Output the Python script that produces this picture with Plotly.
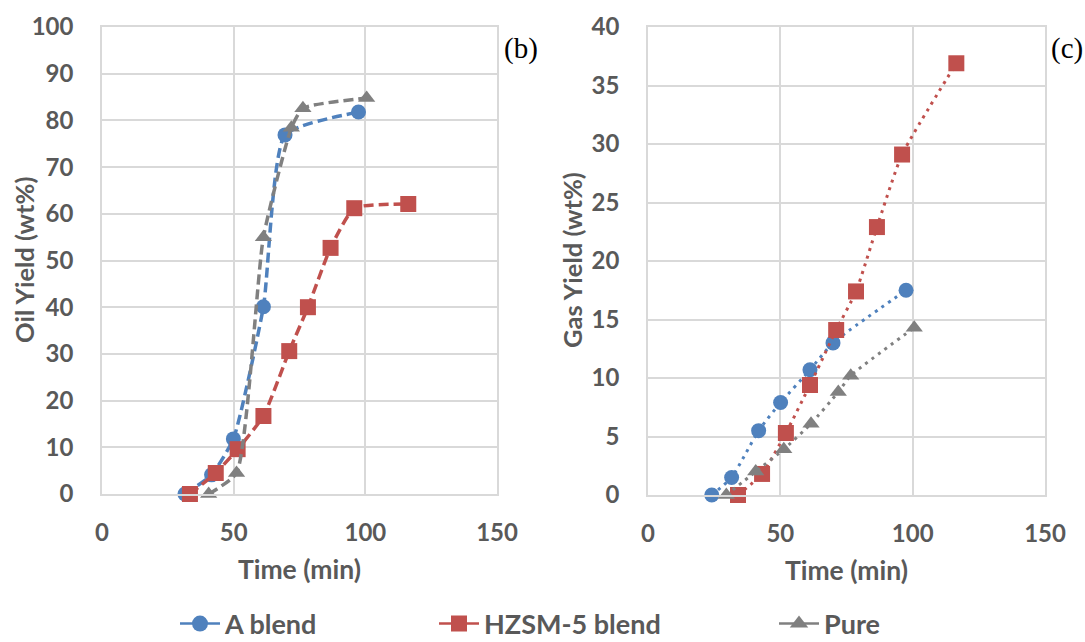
import plotly.graph_objects as go

# Oil yield (panel b)
oil_a_t = [31.5, 41.6, 49.9, 61.3, 69.5, 97.4]
oil_a_y = [0.0, 4.1, 11.8, 40.1, 76.9, 81.8]
oil_h_t = [33.4, 43.2, 51.5, 61.3, 71.1, 78.2, 86.8, 95.8, 116.3]
oil_h_y = [0.0, 4.5, 9.6, 16.7, 30.6, 40.0, 52.7, 61.2, 62.1]
oil_p_t = [40.5, 51.1, 61.3, 71.9, 76.3, 100.5]
oil_p_y = [0.0, 4.5, 55.0, 78.4, 82.6, 84.8]

# Gas yield (panel c)
gas_a_t = [24.1, 31.6, 41.8, 50.1, 61.2, 69.9, 97.5]
gas_a_y = [0.0, 1.5, 5.5, 7.9, 10.7, 13.0, 17.5]
gas_h_t = [34.0, 43.1, 52.1, 61.2, 71.1, 78.6, 86.5, 96.0, 116.5]
gas_h_y = [0.0, 1.8, 5.3, 9.4, 14.1, 17.4, 22.9, 29.1, 36.9]
gas_p_t = [29.6, 40.7, 51.3, 61.6, 71.9, 76.6, 100.6]
gas_p_y = [0.0, 2.0, 3.9, 6.1, 8.8, 10.2, 14.3]

series_names = ["A blend", "HZSM-5 blend", "Pure"]
colors = ["#4f81bd", "#c0504d", "#808080"]
symbols = ["circle", "square", "triangle-up"]
sizes = [15, 16, 15]

x_ticks = [0, 50, 100, 150]
oil_ticks = list(range(0, 101, 10))
gas_ticks = list(range(0, 41, 5))

FONT = "Lato"
TXT = "#595959"
GRID = "#d9d9d9"

fig = go.Figure()

oil = [(oil_a_t, oil_a_y), (oil_h_t, oil_h_y), (oil_p_t, oil_p_y)]
gas = [(gas_a_t, gas_a_y), (gas_h_t, gas_h_y), (gas_p_t, gas_p_y)]

for i, (t, y) in enumerate(oil):
    fig.add_trace(go.Scatter(
        x=t, y=y, mode="lines+markers", xaxis="x", yaxis="y",
        line=dict(color=colors[i], width=3.5, dash="10px,5px", shape="spline", smoothing=0.5),
        marker=dict(symbol=symbols[i], size=sizes[i], color=colors[i]),
        cliponaxis=False, showlegend=False))

for i, (t, y) in enumerate(gas):
    fig.add_trace(go.Scatter(
        x=t, y=y, mode="lines+markers", xaxis="x2", yaxis="y2",
        line=dict(color=colors[i], width=3, dash="3px,5px", shape="spline", smoothing=0.5),
        marker=dict(symbol=symbols[i], size=sizes[i], color=colors[i]),
        cliponaxis=False, showlegend=False))

# legend entries, one legend per series so each sits at its own position
legend_keys = ["legend", "legend2", "legend3"]
for i in range(3):
    fig.add_trace(go.Scatter(
        x=[None], y=[None], mode="lines+markers", name=series_names[i],
        line=dict(color=colors[i], width=2.5),
        marker=dict(symbol=symbols[i], size=18, color=colors[i]),
        legend=legend_keys[i], showlegend=True))

tickfont = dict(family=FONT, size=24, color=TXT, weight="bold")
xtitlefont = dict(family=FONT, size=26.5, color=TXT)
ytitlefont = dict(family=FONT, size=25.5, color=TXT, weight="bold")

axis_common = dict(showgrid=True, gridcolor=GRID, gridwidth=1.5, showline=True,
                   linecolor=GRID, linewidth=1.5, mirror=True, zeroline=False,
                   tickfont=tickfont, ticks="", automargin=False)

fig.update_layout(
    width=1085, height=642,
    margin=dict(l=0, r=0, t=0, b=0, autoexpand=False),
    paper_bgcolor="white", plot_bgcolor="white",
    font=dict(family=FONT, color=TXT),
    xaxis=dict(domain=[102/1085, 497/1085], range=[0, 150], tickvals=x_ticks,
               title=dict(text="<b>Time (min)</b>", font=xtitlefont, standoff=16),
               anchor="y", ticklabelstandoff=16, **axis_common),
    yaxis=dict(domain=[1-494/642, 1-27/642], range=[0, 100], tickvals=oil_ticks,
               anchor="x", ticklabelstandoff=22, **axis_common),
    xaxis2=dict(domain=[648/1085, 1045/1085], range=[0, 150], tickvals=x_ticks,
                title=dict(text="<b>Time (min)</b>", font=xtitlefont, standoff=16),
                anchor="y2", ticklabelstandoff=16, **axis_common),
    yaxis2=dict(domain=[1-495/642, 1-27/642], range=[0, 40], tickvals=gas_ticks,
                anchor="x2", ticklabelstandoff=22, **axis_common),
)

leg_x = [175/1085, 434/1085, 774/1085]
for key, lx in zip(legend_keys, leg_x):
    fig.layout[key] = dict(x=lx, y=1-624/642, xref="container", yref="container",
                           xanchor="left", yanchor="middle",
                           orientation="h", bgcolor="rgba(0,0,0,0)",
                           font=dict(family=FONT, size=27, color=TXT, weight="bold"),
                           itemwidth=40, tracegroupgap=0)

# vertical axis titles
fig.add_annotation(text="Oil Yield (wt%)", x=24/1085, y=1-260/642, xref="paper", yref="paper",
                   xanchor="center", yanchor="middle", textangle=-90, showarrow=False,
                   font=ytitlefont)
fig.add_annotation(text="Gas Yield (wt%)", x=572/1085, y=1-260/642, xref="paper", yref="paper",
                   xanchor="center", yanchor="middle", textangle=-90, showarrow=False,
                   font=ytitlefont)

fig.add_annotation(text="(b)", x=521/1085, y=1-48/642, xref="paper", yref="paper",
                   xanchor="center", yanchor="middle", showarrow=False,
                   font=dict(family="Liberation Serif", size=29, color="black"))
fig.add_annotation(text="(c)", x=1067/1085, y=1-48/642, xref="paper", yref="paper",
                   xanchor="center", yanchor="middle", showarrow=False,
                   font=dict(family="Liberation Serif", size=29, color="black"))

fig.write_html("out.html")
